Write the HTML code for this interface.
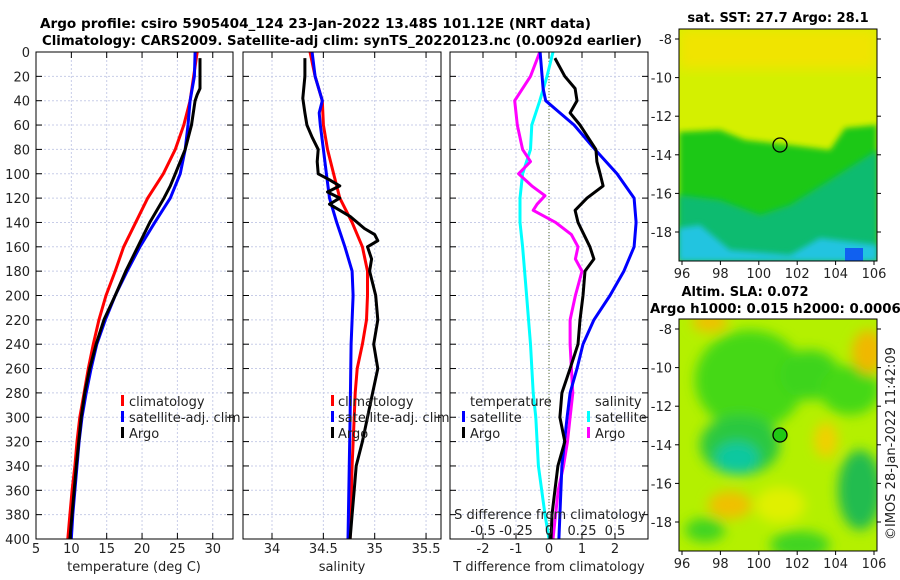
<!DOCTYPE html>
<html><head><meta charset="utf-8">
<style>
html,body{margin:0;padding:0;background:#fff;width:900px;height:580px;overflow:hidden}
svg{display:block;font-family:"DejaVu Sans","Liberation Sans",sans-serif}
.t{font-size:13px;fill:#222}
.b{font-size:13px;font-weight:bold;fill:#000}
</style></head>
<body>
<svg id="c" width="900" height="580" viewBox="0 0 900 580">
<defs>
<filter id="bl" x="-20%" y="-20%" width="140%" height="140%"><feGaussianBlur stdDeviation="6"/></filter>
<filter id="bl2" x="-20%" y="-20%" width="140%" height="140%"><feGaussianBlur stdDeviation="3"/></filter>
<clipPath id="cm1"><rect x="679" y="29" width="198" height="232"/></clipPath>
<clipPath id="cm2"><rect x="679" y="319" width="198" height="232"/></clipPath>
</defs>
<text class="b" x="40" y="28" textLength="551" lengthAdjust="spacingAndGlyphs">Argo profile: csiro 5905404_124 23-Jan-2022 13.48S 101.12E (NRT data)</text>
<text class="b" x="42" y="45" textLength="600" lengthAdjust="spacingAndGlyphs">Climatology: CARS2009. Satellite-adj clim: synTS_20220123.nc (0.0092d earlier)</text>
<g id="grid"></g>
<g id="marks"></g>
<g id="axes"></g>

<g>
<rect x="121" y="395" width="3" height="11" fill="#f00"/><text class="t" x="129" y="406">climatology</text>
<rect x="121" y="411" width="3" height="11" fill="#00f"/><text class="t" x="129" y="422">satellite-adj. clim</text>
<rect x="121" y="427" width="3" height="11" fill="#000"/><text class="t" x="129" y="438">Argo</text>
</g>
<g>
<rect x="331" y="395" width="3" height="11" fill="#f00"/><text class="t" x="338" y="406">climatology</text>
<rect x="331" y="411" width="3" height="11" fill="#00f"/><text class="t" x="338" y="422">satellite-adj. clim</text>
<rect x="331" y="427" width="3" height="11" fill="#000"/><text class="t" x="338" y="438">Argo</text>
</g>
<g>
<text class="t" x="470" y="406">temperature</text>
<rect x="462" y="411" width="3" height="11" fill="#00f"/><text class="t" x="470" y="422">satellite</text>
<rect x="462" y="427" width="3" height="11" fill="#000"/><text class="t" x="470" y="438">Argo</text>
<text class="t" x="595" y="406">salinity</text>
<rect x="587" y="411" width="3" height="11" fill="#0ff"/><text class="t" x="595" y="422">satellite</text>
<rect x="587" y="427" width="3" height="11" fill="#f0f"/><text class="t" x="595" y="438">Argo</text>
</g>
<text class="t" x="550" y="519" text-anchor="middle">S difference from climatology</text>
<text class="t" x="134" y="571" text-anchor="middle">temperature (deg C)</text>
<text class="t" x="342" y="571" text-anchor="middle">salinity</text>
<text class="t" x="549" y="571" text-anchor="middle">T difference from climatology</text>

<text class="b" x="778" y="22" text-anchor="middle">sat. SST: 27.7 Argo: 28.1</text>
<g clip-path="url(#cm1)">
<rect x="679" y="29" width="198" height="232" fill="#d4f000"/>
<rect x="679" y="29" width="198" height="40" fill="#f0e400" filter="url(#bl)"/>
<polygon points="679,132 720,130 745,140 790,145 830,150 845,128 877,125 877,261 679,261" fill="#1ec814" filter="url(#bl2)"/>
<polygon points="679,195 720,200 760,215 790,205 830,180 877,150 877,261 679,261" fill="#10bb70" filter="url(#bl2)"/>
<polygon points="679,228 700,225 730,250 790,255 820,238 877,245 877,261 679,261" fill="#20c4e0" filter="url(#bl2)"/>
<rect x="845" y="248" width="18" height="13" fill="#1060f0"/>
<circle cx="780" cy="145" r="7" fill="none" stroke="#000" stroke-width="1.3"/>
</g>
<rect x="679" y="29" width="198" height="232" fill="none" stroke="#000"/>
<g id="m1ax"></g>

<text class="b" x="745" y="296" text-anchor="middle">Altim. SLA: 0.072</text>
<text class="b" x="650" y="313" textLength="260" lengthAdjust="spacingAndGlyphs">Argo h1000: 0.015 h2000: 0.00060</text>
<g clip-path="url(#cm2)">
<rect x="679" y="319" width="198" height="232" fill="#b4f000"/>
<g filter="url(#bl)">
<ellipse cx="750" cy="380" rx="55" ry="50" fill="#44d814"/>
<ellipse cx="810" cy="375" rx="30" ry="25" fill="#3cd41c"/>
<ellipse cx="850" cy="390" rx="30" ry="25" fill="#44d814"/>
<ellipse cx="740" cy="445" rx="40" ry="30" fill="#2cc840"/>
<ellipse cx="737" cy="458" rx="22" ry="16" fill="#10c8a0"/>
<ellipse cx="860" cy="490" rx="22" ry="40" fill="#20bc50"/>
<ellipse cx="705" cy="530" rx="20" ry="12" fill="#40d420"/>
<ellipse cx="800" cy="545" rx="30" ry="14" fill="#40d420"/>
<ellipse cx="710" cy="322" rx="18" ry="10" fill="#f0c000"/>
<ellipse cx="868" cy="352" rx="16" ry="22" fill="#f0b800"/>
<ellipse cx="730" cy="505" rx="22" ry="14" fill="#f0c000"/>
<ellipse cx="826" cy="440" rx="12" ry="18" fill="#f0d000"/>
<ellipse cx="780" cy="505" rx="25" ry="18" fill="#e0f000"/>
</g>
<circle cx="780" cy="435" r="7" fill="#20c814" stroke="#000" stroke-width="1.3"/>
</g>
<rect x="679" y="319" width="198" height="232" fill="none" stroke="#000"/>
<g id="m2ax"></g>
<text class="t" x="0" y="0" transform="translate(895,540) rotate(-90)">©IMOS 28-Jan-2022 11:42:09</text>
</svg>
<script>
const tClimDepth=[0,40,60,80,100,120,140,160,180,200,220,240,260,280,300,320,340,360,380,400];
const tClimVal=[27.8,26.8,25.9,24.7,23.0,20.8,19.1,17.4,16.2,14.9,13.9,13.1,12.4,11.8,11.2,10.8,10.5,10.1,9.8,9.5];
const tSatDepth=[0,20,40,60,80,100,120,140,160,180,200,220,240,260,280,300,320,340,360,380,400];
const tSatVal=[27.5,27.4,26.8,26.5,26.1,25.4,24.0,21.8,19.7,17.9,16.2,14.8,13.6,12.8,12.1,11.5,11.1,10.8,10.5,10.2,10.0];
const argoDepth=[5,20,30,35,40,60,80,100,110,120,140,160,180,200,220,240,260,280,300,340,400];
const tArgoVal=[28.2,28.2,28.2,27.8,27.5,27.0,26.1,24.7,24.0,23.1,21.1,19.4,17.7,16.2,14.6,13.5,12.6,11.9,11.4,10.7,9.8];
const sClimDepth=[0,20,40,60,80,100,120,140,160,180,200,220,240,260,280,300,340,400];
const sClimVal=[34.37,34.42,34.49,34.50,34.54,34.60,34.66,34.78,34.88,34.93,34.93,34.92,34.88,34.83,34.81,34.80,34.78,34.76];
const sSatDepth=[0,20,40,50,60,80,100,120,140,160,180,200,220,240,300,400];
const sSatVal=[34.39,34.42,34.49,34.46,34.47,34.50,34.53,34.56,34.63,34.71,34.78,34.79,34.78,34.77,34.76,34.74];
const sArgoDepth=[5,20,38,50,60,70,80,90,100,105,110,115,120,125,135,145,150,155,160,170,180,200,220,240,260,280,300,320,340,360,380,400];
const sArgoVal=[34.32,34.32,34.30,34.32,34.34,34.39,34.45,34.44,34.45,34.56,34.66,34.54,34.66,34.56,34.76,34.90,35.00,35.03,34.93,34.97,34.95,35.01,35.03,34.99,35.03,34.98,34.93,34.88,34.82,34.80,34.78,34.76];
const dTSatDepth=[0,30,40,50,60,80,100,120,140,160,180,200,220,240,260,280,300,340,400];
const dTSatVal=[-0.27,-0.18,-0.1,0.33,0.76,1.39,2.06,2.58,2.64,2.58,2.27,1.85,1.36,1.03,0.85,0.64,0.55,0.39,0.30];
const dTArgoDepth=[5,20,30,40,50,60,80,90,100,110,120,130,140,160,170,180,200,220,240,260,280,300,320,340,360,380,400];
const dTArgoVal=[0.18,0.48,0.79,0.85,0.64,0.94,1.42,1.45,1.55,1.64,1.15,0.79,0.88,1.24,1.36,1.09,1.03,0.94,0.88,0.64,0.39,0.33,0.48,0.27,0.18,0.09,0.06];
const dSSatDepth=[0,20,40,60,80,100,120,140,160,200,240,280,300,340,380,400];
const dSSatVal=[0.03,-0.015,-0.07,-0.13,-0.14,-0.2,-0.22,-0.22,-0.2,-0.17,-0.14,-0.12,-0.1,-0.08,-0.03,0.0];
const dSArgoDepth=[0,20,40,60,80,90,100,110,118,125,130,140,150,160,170,180,200,220,240,260,280,300,320,340,360,380,400];
const dSArgoVal=[-0.07,-0.14,-0.26,-0.24,-0.2,-0.14,-0.23,-0.13,-0.03,-0.09,-0.12,0.05,0.17,0.22,0.2,0.25,0.2,0.16,0.16,0.17,0.18,0.16,0.14,0.11,0.07,0.05,0.03];
const depthTicks=[0,20,40,60,80,100,120,140,160,180,200,220,240,260,280,300,320,340,360,380,400];
const tTicks=[5,10,15,20,25,30];
const sTicks=[34,34.5,35,35.5];
const sTickLabels=["34","34.5","35","35.5"];
const dTTicks=[-2,-1,0,1,2];
const dSTicks=[-0.5,-0.25,0,0.25,0.5];
const dSTickLabels=["-0.5","-0.25","0","0.25","0.5"];
const lonTicks=[96,98,100,102,104,106];
const latTicks=[-8,-10,-12,-14,-16,-18];

const Y0=52,Y1=539;
const yD=d=>Y0+d*(Y1-Y0)/400;
const P1={x0:36,x1:233}, P2={x0:243,x1:441}, P3={x0:450,x1:648};
const xT=v=>36+(v-5)*7.07;
const xS=v=>272+(v-34)*102.7;
const xDT=v=>549+v*33;
const xDS=v=>549+v*132;
const ns="http://www.w3.org/2000/svg";
function mk(tag,parent,attrs){const e=document.createElementNS(ns,tag);for(const k in attrs)e.setAttribute(k,attrs[k]);parent.appendChild(e);return e;}
const G=document.getElementById('grid'),M=document.getElementById('marks'),A=document.getElementById('axes');

function panel(P,ticks,sx,name){
  for(const d of depthTicks){const l=mk('line',G,{x1:P.x0,x2:P.x1,y1:yD(d),y2:yD(d),stroke:'#c8cde8','stroke-dasharray':'2,2','stroke-width':1});
    
    
    mk('line',A,{x1:P.x0,x2:P.x0+6,y1:yD(d),y2:yD(d),stroke:'#000'});mk('line',A,{x1:P.x1-6,x2:P.x1,y1:yD(d),y2:yD(d),stroke:'#000'});}
  for(const t of ticks){const x=sx(t);const l=mk('line',G,{x1:x,x2:x,y1:Y0,y2:Y1,stroke:'#c8cde8','stroke-dasharray':'2,2','stroke-width':1});
    
    
    mk('line',A,{x1:x,x2:x,y1:Y0,y2:Y0+6,stroke:'#000'});mk('line',A,{x1:x,x2:x,y1:Y1-6,y2:Y1,stroke:'#000'});}
  const r=mk('rect',A,{x:P.x0,y:Y0,width:P.x1-P.x0,height:Y1-Y0,fill:'none',stroke:'#000'});
  
  
}
panel(P1,tTicks,xT,'temperature-panel');
panel(P2,sTicks,xS,'salinity-panel');
panel(P3,dTTicks,xDT,'difference-panel');
const zl=mk('line',G,{x1:549,x2:549,y1:Y0,y2:Y1,stroke:'#556b2f','stroke-dasharray':'1,2'});



function txt(p,x,y,s,anchor,name){const t=mk('text',p,{x:x,y:y,'text-anchor':anchor,class:'t'});t.textContent=s;
  
  
  return t;}
for(const d of depthTicks) txt(A,30,yD(d)+5,String(d),'end','depth-tick-label');
tTicks.forEach(v=>txt(A,xT(v),553,String(v),'middle','t-tick-label'));
sTicks.forEach((v,i)=>txt(A,xS(v),553,sTickLabels[i],'middle','s-tick-label'));
dTTicks.forEach(v=>txt(A,xDT(v),553,String(v),'middle','tdiff-tick-label'));
dSTicks.forEach((v,i)=>txt(A,xDS(v),535,dSTickLabels[i],'middle','sdiff-tick-label'));

function line(ds,vs,sx,color,name){
  const pts=ds.map((d,i)=>sx(vs[i]).toFixed(1)+','+yD(d).toFixed(1)).join(' ');
  const p=mk('polyline',M,{points:pts,fill:'none',stroke:color,'stroke-width':3,'stroke-linejoin':'round'});
  
  
}
line(tClimDepth,tClimVal,xT,'#f00','t-climatology-line');
line(tSatDepth,tSatVal,xT,'#00f','t-satellite-line');
line(argoDepth,tArgoVal,xT,'#000','t-argo-line');
line(sClimDepth,sClimVal,xS,'#f00','s-climatology-line');
line(sSatDepth,sSatVal,xS,'#00f','s-satellite-line');
line(sArgoDepth,sArgoVal,xS,'#000','s-argo-line');
line(dSSatDepth,dSSatVal,xDS,'#0ff','sdiff-satellite-line');
line(dSArgoDepth,dSArgoVal,xDS,'#f0f','sdiff-argo-line');
line(dTSatDepth,dTSatVal,xDT,'#00f','tdiff-satellite-line');
line(dTArgoDepth,dTArgoVal,xDT,'#000','tdiff-argo-line');

function mapAxes(id,top,bottom,lat8){
  const g=document.getElementById(id);
  const xL=v=>682+(v-96)*19.2, yL=v=>lat8+(-8-v)*19.3;
  lonTicks.forEach(v=>{mk('line',g,{x1:xL(v),x2:xL(v),y1:bottom,y2:bottom+4,stroke:'#000'});
    txt(g,xL(v),bottom+17,String(v),'middle','lon-tick-label');});
  latTicks.forEach(v=>{mk('line',g,{x1:675,x2:679,y1:yL(v),y2:yL(v),stroke:'#000'});mk('line',g,{x1:877,x2:881,y1:yL(v),y2:yL(v),stroke:'#000'});
    txt(g,672,yL(v)+5,String(v),'end','lat-tick-label');});
}
mapAxes('m1ax',29,261,39);
mapAxes('m2ax',319,551,329);
</script>
</body></html>
